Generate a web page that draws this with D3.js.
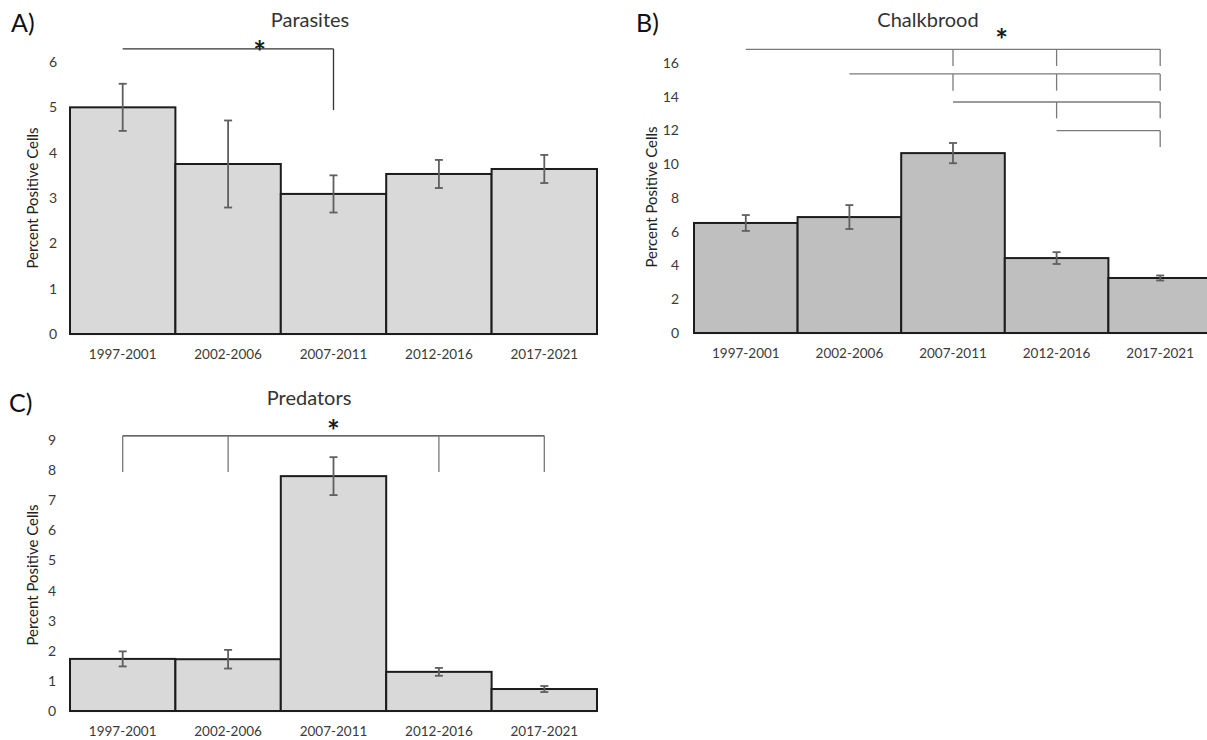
<!DOCTYPE html>
<html>
<head>
<meta charset="utf-8">
<script src="https://cdn.jsdelivr.net/npm/d3@7"></script>
<style>
  html, body { margin: 0; padding: 0; background: #fff; }
  svg { display: block; font-family: Lato, "Open Sans", sans-serif; }
</style>
</head>
<body>
<svg id="chart" width="1207" height="740"></svg>
<script>
// ---------------- data ----------------
const categories = ["1997-2001", "2002-2006", "2007-2011", "2012-2016", "2017-2021"];

const parasitesValues = [5.0, 3.75, 3.09, 3.53, 3.64];
const parasitesErrors = [0.52, 0.96, 0.41, 0.31, 0.31];
const parasitesTicks = [0, 1, 2, 3, 4, 5, 6];

const chalkbroodValues = [6.52, 6.87, 10.66, 4.44, 3.26];
const chalkbroodErrors = [0.47, 0.71, 0.60, 0.35, 0.15];
const chalkbroodTicks = [0, 2, 4, 6, 8, 10, 12, 14, 16];

const predatorsValues = [1.73, 1.72, 7.80, 1.30, 0.73];
const predatorsErrors = [0.25, 0.31, 0.63, 0.13, 0.10];
const predatorsTicks = [0, 1, 2, 3, 4, 5, 6, 7, 8, 9];

// significance brackets: compared groups, bracket level and drop end (in y units)
const parasitesBrackets = [
  { from: "1997-2001", to: "2007-2011", drops: ["2007-2011"], level: 6.29, end: 4.94 }
];
const chalkbroodBrackets = [
  { from: "1997-2001", to: "2017-2021", drops: ["2007-2011", "2012-2016", "2017-2021"], level: 16.81, end: 15.82 },
  { from: "2002-2006", to: "2017-2021", drops: ["2007-2011", "2012-2016", "2017-2021"], level: 15.35, end: 14.36 },
  { from: "2007-2011", to: "2017-2021", drops: ["2012-2016", "2017-2021"], level: 13.69, end: 12.72 },
  { from: "2012-2016", to: "2017-2021", drops: ["2017-2021"], level: 11.99, end: 11.02 }
];
const predatorsBrackets = [
  { from: "1997-2001", to: "2017-2021", drops: ["1997-2001", "2002-2006", "2012-2016", "2017-2021"], level: 9.14, end: 7.94 }
];

// ---------------- drawing ----------------
const svg = d3.select("#chart");

function drawPanel(cfg) {
  const g = svg.append("g");
  const x = d3.scaleBand().domain(categories).range([cfg.left, cfg.right]).padding(0);
  const y = d3.scaleLinear().domain([0, cfg.max]).range([cfg.bottom, cfg.top]);
  const cx = c => x(c) + x.bandwidth() / 2;

  // x axis
  const xa = g.append("g")
    .attr("transform", `translate(0,${cfg.bottom})`)
    .call(d3.axisBottom(x).tickSize(0).tickPadding(15));
  xa.select(".domain").attr("stroke", "#d9d9d9").attr("stroke-width", 1.5);
  xa.selectAll("text").attr("font-size", 13.5).attr("fill", "#3a3a3a").attr("font-family", "Lato, sans-serif");

  // y axis
  const ya = g.append("g")
    .attr("transform", `translate(${cfg.left},0)`)
    .call(d3.axisLeft(y).tickValues(cfg.ticks).tickSize(0).tickPadding(cfg.tickPad).tickFormat(d3.format("d")));
  ya.select(".domain").remove();
  ya.selectAll("text").attr("font-size", 14).attr("fill", "#3a3a3a").attr("font-family", "Lato, sans-serif");

  // bars
  g.append("g").selectAll("rect")
    .data(cfg.values)
    .join("rect")
    .attr("x", (d, i) => x(categories[i]))
    .attr("width", x.bandwidth())
    .attr("y", d => y(d))
    .attr("height", d => y(0) - y(d))
    .attr("fill", cfg.fill)
    .attr("stroke", "#1c1c1c")
    .attr("stroke-width", 2);

  // error bars
  const eg = g.append("g").attr("stroke", "#5f5f5f").attr("stroke-width", 1.8);
  cfg.values.forEach((v, i) => {
    const e = cfg.errors[i];
    const xc = cx(categories[i]);
    eg.append("line").attr("x1", xc).attr("x2", xc).attr("y1", y(v + e)).attr("y2", y(v - e));
    eg.append("line").attr("x1", xc - 4).attr("x2", xc + 4).attr("y1", y(v + e)).attr("y2", y(v + e));
    eg.append("line").attr("x1", xc - 4).attr("x2", xc + 4).attr("y1", y(v - e)).attr("y2", y(v - e));
  });

  // significance brackets
  const bg = g.append("g").attr("fill", "none");
  cfg.brackets.forEach(b => {
    bg.append("line")
      .attr("x1", cx(b.from)).attr("x2", cx(b.to))
      .attr("y1", y(b.level)).attr("y2", y(b.level))
      .attr("stroke", cfg.bracketColor).attr("stroke-width", 1.3);
    b.drops.forEach(c => {
      bg.append("line")
        .attr("x1", cx(c)).attr("x2", cx(c))
        .attr("y1", y(b.level)).attr("y2", y(b.end))
        .attr("stroke", cfg.dropColor).attr("stroke-width", 1.3);
    });
  });

  // star
  const starX = d3.scaleLinear().domain([0, categories.length]).range([cfg.left, cfg.right]);
  g.append("text")
    .attr("x", starX(cfg.starAt))
    .attr("y", y(cfg.brackets[0].level) + cfg.starDy)
    .attr("text-anchor", "middle")
    .attr("font-size", 30)
    .attr("font-weight", "bold")
    .attr("fill", "#1a1a1a")
    .text("*");

  // title
  g.append("text")
    .attr("x", cfg.titleX).attr("y", cfg.titleY)
    .attr("text-anchor", "middle")
    .attr("font-size", 20)
    .attr("fill", "#333")
    .text(cfg.title);

  // panel letter
  g.append("text")
    .attr("x", cfg.letterX).attr("y", cfg.letterY)
    .attr("font-size", 25)
    .attr("fill", "#111")
    .text(cfg.letter);

  // y axis title
  g.append("text")
    .attr("transform", `translate(${cfg.yTitleX},${cfg.yTitleY}) rotate(-90)`)
    .attr("text-anchor", "middle")
    .attr("font-size", 15)
    .attr("fill", "#222")
    .text("Percent Positive Cells");
}

drawPanel({
  values: parasitesValues, errors: parasitesErrors, ticks: parasitesTicks, max: 6,
  brackets: parasitesBrackets, left: 70, right: 597, bottom: 334, top: 62, tickPad: 13,
  fill: "#d9d9d9", bracketColor: "#333", dropColor: "#333", starAt: 1.8, starDy: 14,
  title: "Parasites", titleX: 310, titleY: 27, letter: "A)", letterX: 11, letterY: 32,
  yTitleX: 38, yTitleY: 198
});

drawPanel({
  values: chalkbroodValues, errors: chalkbroodErrors, ticks: chalkbroodTicks, max: 16,
  brackets: chalkbroodBrackets, left: 694, right: 1212, bottom: 333, top: 63, tickPad: 15,
  fill: "#bfbfbf", bracketColor: "#7a7a7a", dropColor: "#7a7a7a", starAt: 2.97, starDy: 2,
  title: "Chalkbrood", titleX: 928, titleY: 27, letter: "B)", letterX: 636, letterY: 32,
  yTitleX: 657, yTitleY: 197
});

drawPanel({
  values: predatorsValues, errors: predatorsErrors, ticks: predatorsTicks, max: 9,
  brackets: predatorsBrackets, left: 70, right: 597, bottom: 711, top: 440, tickPad: 14,
  fill: "#d9d9d9", bracketColor: "#333", dropColor: "#777", starAt: 2.5, starDy: 6,
  title: "Predators", titleX: 309, titleY: 405, letter: "C)", letterX: 9, letterY: 412,
  yTitleX: 38, yTitleY: 575
});
</script>
</body>
</html>
